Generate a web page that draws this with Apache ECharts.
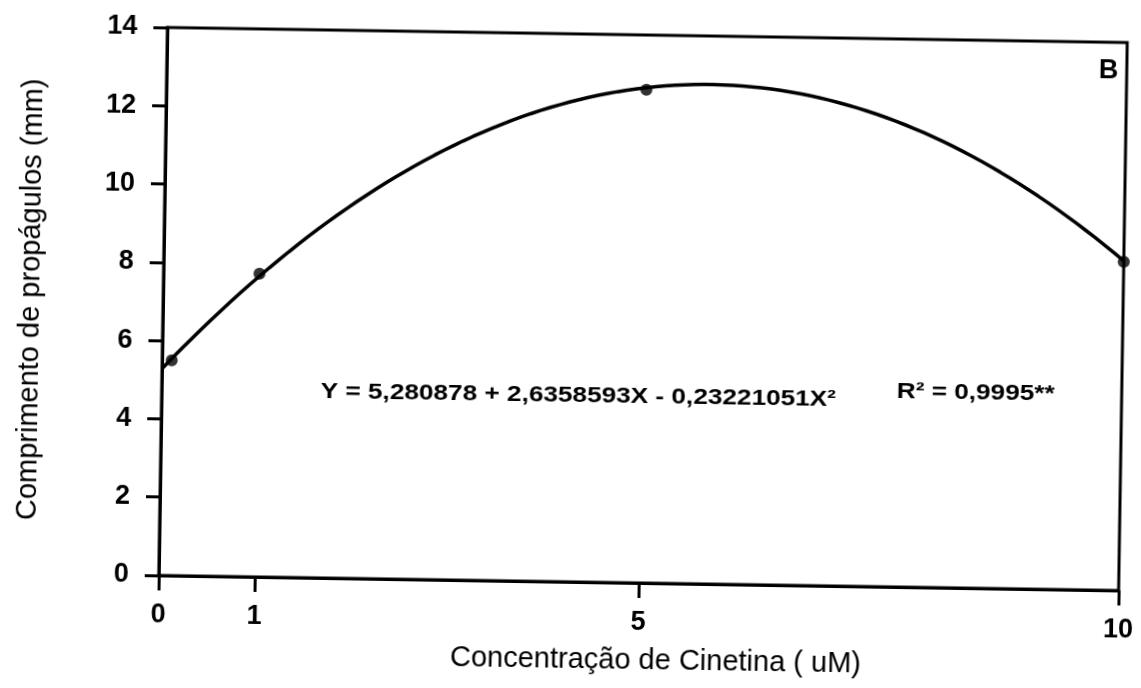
<!DOCTYPE html>
<html>
<head>
<meta charset="utf-8">
<script src="https://cdn.jsdelivr.net/npm/echarts@6/dist/echarts.min.js"></script>
<style>
  html, body { margin: 0; padding: 0; background: #fff; overflow: hidden; }
  #chart { width: 1141px; height: 688px; transform: rotate(0.9deg); transform-origin: 644px 309px; }
</style>
</head>
<body>
<div id="chart"></div>
<script>
// Kinetin concentration (uM) and mean propagule length (mm)
const concentration = [0.1, 1, 5, 10];
const propaguleLength = [5.5, 7.75, 12.6, 8.4];

// Tick labels
const xTicks = [0, 1, 5, 10];
const yTicks = [0, 2, 4, 6, 8, 10, 12, 14];

// Quadratic regression as printed on the chart: Y = a + bX - cX²
const coefA = 5.280878;
const coefB = 2.6358593;
const coefC = 0.23221051;
const rSquared = '0,9995';

const fmt = v => String(v).replace('.', ',');
const equationText = 'Y = ' + fmt(coefA) + ' + ' + fmt(coefB) + 'X - ' + fmt(coefC) + 'X²';

const fitCurve = [];
for (let i = 0; i <= 100; i++) {
  const x = i / 10;
  fitCurve.push([x, coefA + coefB * x - coefC * x * x]);
}

const font = '"Liberation Sans", Arial, sans-serif';
const chart = echarts.init(document.getElementById('chart'), null, { renderer: 'canvas' });

chart.setOption({
  backgroundColor: '#fff',
  animation: false,
  grid: {
    left: 163, right: 16, top: 35, bottom: 105,
    show: true, borderColor: '#000', borderWidth: 3, backgroundColor: 'transparent'
  },
  xAxis: {
    type: 'value', min: 0, max: 10,
    name: 'Concentração de Cinetina ( uM)',
    nameLocation: 'middle', nameGap: 63,
    nameTextStyle: { fontFamily: font, fontSize: 29, color: '#000', padding: [0, 0, 0, 36] },
    axisLine: { show: true, onZero: false, lineStyle: { color: '#000', width: 3 } },
    axisTick: { show: true, length: 15, lineStyle: { color: '#000', width: 3 }, customValues: xTicks },
    axisLabel: { margin: 26, fontFamily: font, fontSize: 27, fontWeight: 'bold', color: '#000', customValues: xTicks },
    splitLine: { show: false }
  },
  yAxis: {
    type: 'value', min: 0, max: 14, interval: 2,
    name: 'Comprimento de propágulos (mm)',
    nameLocation: 'middle', nameGap: 118, nameRotate: 90,
    nameTextStyle: { fontFamily: font, fontSize: 29, color: '#000' },
    axisLine: { show: true, lineStyle: { color: '#000', width: 3 } },
    axisTick: { show: true, length: 14, lineStyle: { color: '#000', width: 3 } },
    axisLabel: { margin: 30, fontFamily: font, fontSize: 27, fontWeight: 'bold', color: '#000',
      formatter: v => yTicks.includes(v) ? String(v) : '' },
    splitLine: { show: false }
  },
  series: [
    {
      type: 'line',
      data: fitCurve,
      showSymbol: false,
      lineStyle: { color: '#000', width: 3.5 },
      z: 2
    },
    {
      type: 'scatter',
      data: concentration.map((c, i) => [c, propaguleLength[i]]),
      symbol: 'circle', symbolSize: 12,
      itemStyle: { color: '#000' },
      z: 3
    }
  ],
  graphic: [
    { type: 'text', x: 322, y: 386, scaleX: 1.19,
      style: { text: equationText, fontFamily: font, fontSize: 22, fontWeight: 'bold', fill: '#000' } },
    { type: 'text', x: 898, y: 377, scaleX: 1.19,
      style: { text: 'R² = ' + rSquared + '**', fontFamily: font, fontSize: 22, fontWeight: 'bold', fill: '#000' } },
    { type: 'text', x: 1095, y: 50,
      style: { text: 'B', fontFamily: font, fontSize: 27, fontWeight: 'bold', fill: '#000' } }
  ]
});
</script>
</body>
</html>
